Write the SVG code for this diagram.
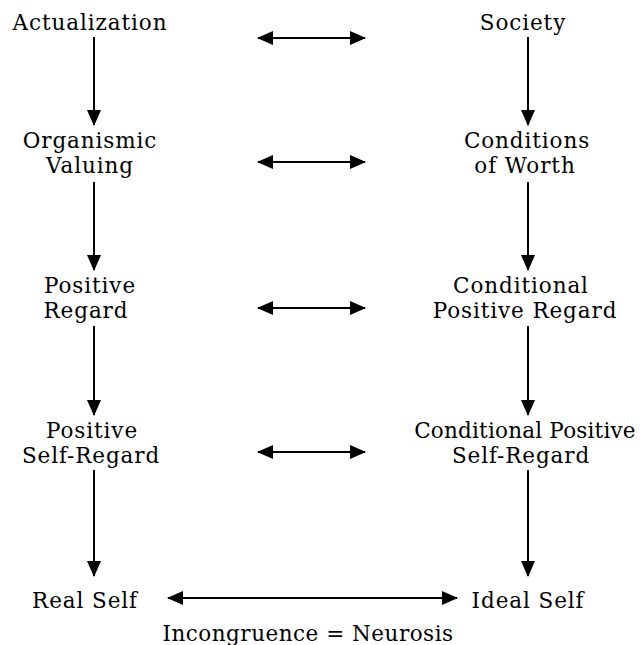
<svg xmlns="http://www.w3.org/2000/svg" width="642" height="645" viewBox="0 0 642 645">
<style>
text{font-family:"DejaVu Serif","Liberation Serif",serif;font-size:21.5px;letter-spacing:0.9px;fill:#000;text-anchor:middle}
.c{stroke:#000;stroke-width:2;fill:none}
</style>
<defs>
<marker id="ah" viewBox="0 0 16 14" refX="15" refY="7" markerWidth="16" markerHeight="14" markerUnits="userSpaceOnUse" orient="auto-start-reverse">
<path d="M0,0 L16,7 L0,14 Z" fill="#000"/>
</marker>
</defs>
<rect width="642" height="645" fill="#fff"/>
<g id="actualization"><text x="90" y="30">Actualization</text></g>
<g id="society"><text x="523" y="30">Society</text></g>
<g id="organismic-valuing"><text x="90" y="148">Organismic</text><text x="90" y="173">Valuing</text></g>
<g id="conditions-of-worth"><text x="527" y="148">Conditions</text><text x="525" y="173">of Worth</text></g>
<g id="positive-regard"><text x="90" y="293">Positive</text><text x="86" y="318">Regard</text></g>
<g id="conditional-positive-regard"><text x="521" y="293">Conditional</text><text x="525" y="318">Positive Regard</text></g>
<g id="positive-self-regard"><text x="92" y="438">Positive</text><text x="91" y="463">Self-Regard</text></g>
<g id="conditional-positive-self-regard"><text x="525" y="438" style="letter-spacing:0.2px">Conditional Positive</text><text x="521" y="463">Self-Regard</text></g>
<g id="real-self"><text x="85" y="608">Real Self</text></g>
<g id="ideal-self"><text x="528" y="608">Ideal Self</text></g>
<g id="label"><text x="308" y="641" style="letter-spacing:0.5px">Incongruence = Neurosis</text></g>
<g id="connectors" class="c">
<line x1="94" y1="37" x2="94" y2="125" marker-end="url(#ah)"/>
<line x1="94" y1="182" x2="94" y2="270" marker-end="url(#ah)"/>
<line x1="94" y1="326" x2="94" y2="415" marker-end="url(#ah)"/>
<line x1="94" y1="470" x2="94" y2="576" marker-end="url(#ah)"/>
<line x1="528" y1="37" x2="528" y2="125" marker-end="url(#ah)"/>
<line x1="528" y1="182" x2="528" y2="270" marker-end="url(#ah)"/>
<line x1="528" y1="326" x2="528" y2="415" marker-end="url(#ah)"/>
<line x1="528" y1="470" x2="528" y2="576" marker-end="url(#ah)"/>
<line x1="258" y1="38" x2="365" y2="38" marker-start="url(#ah)" marker-end="url(#ah)"/>
<line x1="258" y1="162" x2="365" y2="162" marker-start="url(#ah)" marker-end="url(#ah)"/>
<line x1="258" y1="308" x2="365" y2="308" marker-start="url(#ah)" marker-end="url(#ah)"/>
<line x1="258" y1="452" x2="365" y2="452" marker-start="url(#ah)" marker-end="url(#ah)"/>
<line x1="168" y1="598" x2="457" y2="598" marker-start="url(#ah)" marker-end="url(#ah)"/>
</g>
</svg>
